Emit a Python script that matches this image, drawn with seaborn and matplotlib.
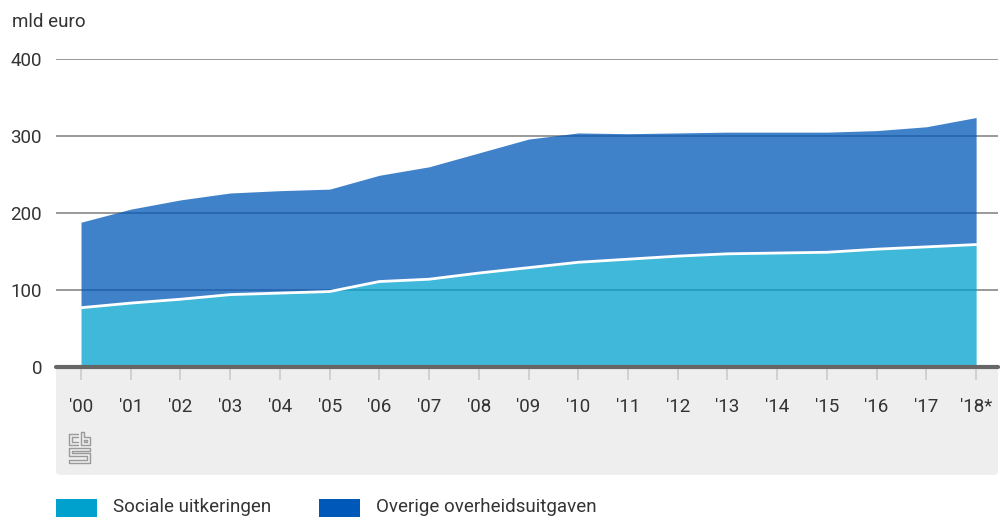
import numpy as np
import pandas as pd
import matplotlib.pyplot as plt
import seaborn as sns
from matplotlib.patches import FancyBboxPatch, Rectangle
from matplotlib.lines import Line2D

# Data (mld euro)
years = ["'00", "'01", "'02", "'03", "'04", "'05", "'06", "'07", "'08", "'09",
         "'10", "'11", "'12", "'13", "'14", "'15", "'16", "'17", "'18*"]
sociale = [77, 83, 88, 94, 96, 98, 111, 114, 122, 129,
           136, 140, 144, 147, 148, 149, 153, 156, 159]
overige = [111, 122, 129, 132, 133, 133, 138, 146, 156, 167,
           168, 163, 160, 158, 157, 156, 154, 156, 165]
yticks = [0, 100, 200, 300, 400]

df = pd.DataFrame({"jaar": years, "sociale": sociale, "overige": overige})
df["x"] = np.arange(len(df))
df["totaal"] = df["sociale"] + df["overige"]

sns.set_theme(style="white")
plt.rcParams["font.family"] = ["Roboto", "DejaVu Sans"]

c_soc = "#00a1cd"
c_ov = "#0058b8"
txt = "#333333"

fig = plt.figure(figsize=(10, 5.17), dpi=100)
W, H = 1000, 517

# grey panel under the x axis
panel = FancyBboxPatch((56 / W, 1 - 475 / H), 942 / W, 108 / H,
                       boxstyle="round,pad=0,rounding_size=0.006",
                       transform=fig.transFigure, facecolor="#eeeeee",
                       edgecolor="none", zorder=-1)
fig.patches.append(panel)

ax = fig.add_axes([56 / W, 1 - 367 / H, 942 / W, 308 / H])
ax.set_facecolor("none")

for y in yticks[1:]:
    ax.axhline(y, color="#999999", lw=1.4, zorder=1)

ax.fill_between(df["x"], 0, df["sociale"], color=c_soc, alpha=0.75, lw=0, zorder=2)
ax.fill_between(df["x"], df["sociale"], df["totaal"], color=c_ov, alpha=0.75, lw=0, zorder=2)
sns.lineplot(data=df, x="x", y="sociale", color="white", lw=2, ax=ax, zorder=3)

ax.axhline(0, color="#666666", lw=3, zorder=4, clip_on=False)

ax.set_xlim(-0.503, 18.44)
ax.set_ylim(0, 400)
ax.set_xticks(df["x"])
ax.set_xticklabels(years)
ax.set_yticks(yticks)
ax.set_xlabel("")
ax.set_ylabel("")
for s in ax.spines.values():
    s.set_visible(False)
ax.tick_params(axis="x", length=9.5, width=1.2, color="#cccccc", pad=13,
               labelsize=13.5, labelcolor=txt, direction="out", bottom=True)
ax.tick_params(axis="y", length=0, pad=10, labelsize=13.5, labelcolor=txt)

fig.text(12 / W, 1 - 22 / H, "mld euro", fontsize=13.5, color=txt, va="center")

# cbs logo (simple line drawing)
lc = "#9a9a9a"
logo = [
    [(69, 434), (69, 445), (78, 445)],
    [(69, 434), (78, 434)],
    [(72, 437), (72, 442), (78, 442)],
    [(72, 437), (78, 437)],
    [(81, 432), (81, 445), (90, 445), (90, 437), (84, 437), (84, 432), (81, 432)],
    [(84, 440), (87, 440), (87, 442), (84, 442), (84, 440)],
    [(69, 448), (90, 448), (90, 451), (72, 451), (72, 453), (90, 453), (90, 463), (69, 463), (69, 460), (87, 460), (87, 456), (69, 456), (69, 448)],
]
for pts in logo:
    xs = [p[0] / W for p in pts]
    ys = [1 - p[1] / H for p in pts]
    fig.lines.append(Line2D(xs, ys, transform=fig.transFigure, color=lc, lw=1))

# legend drawn by hand
for x0, col, label, tx in [(56, c_soc, "Sociale uitkeringen", 113),
                           (319, c_ov, "Overige overheidsuitgaven", 376)]:
    fig.patches.append(Rectangle((x0 / W, 0), 41 / W, 18 / H,
                                 transform=fig.transFigure, facecolor=col,
                                 edgecolor="none"))
    fig.text(tx / W, 1 - 507 / H, label, fontsize=13.5, color=txt, va="center")

fig.savefig("out.png", dpi=100)
